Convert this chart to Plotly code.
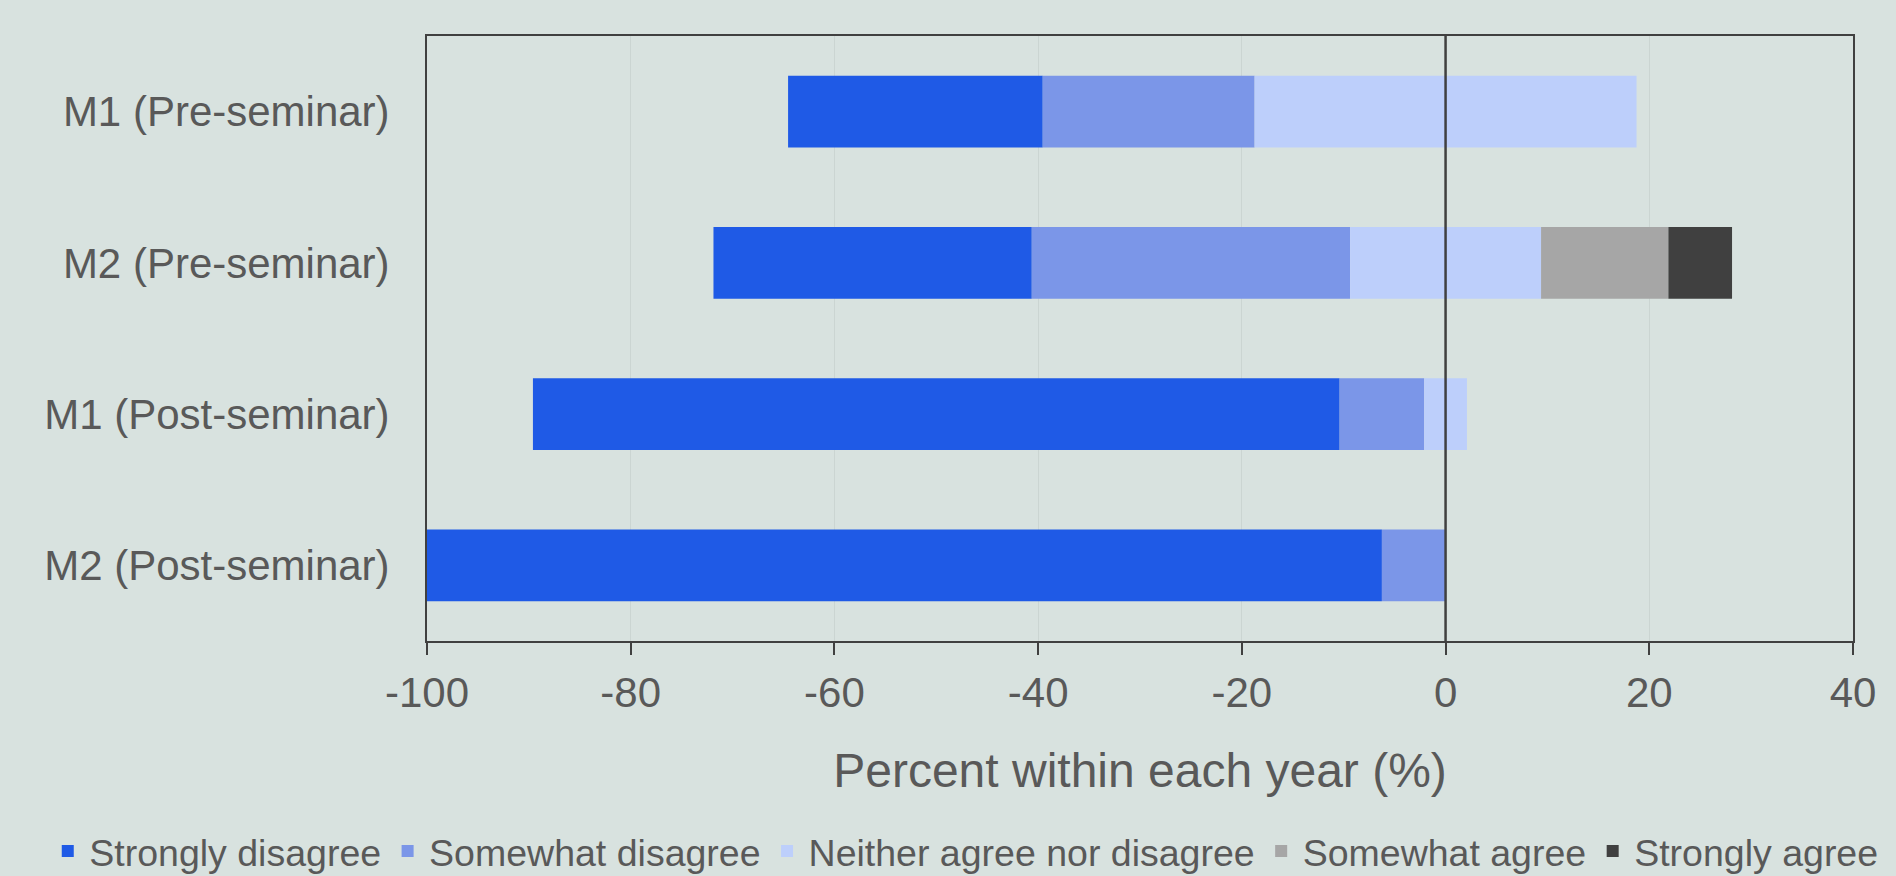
import plotly.graph_objects as go

groups = ["M1 (Pre-seminar)", "M2 (Pre-seminar)", "M1 (Post-seminar)", "M2 (Post-seminar)"]
strongly_disagree = [25.0, 31.25, 79.2, 93.75]
somewhat_disagree = [20.8, 31.25, 8.3, 6.25]
neither = [37.5, 18.75, 4.2, 0.0]
somewhat_agree = [0.0, 12.5, 0.0, 0.0]
strongly_agree = [0.0, 6.25, 0.0, 0.0]
x_ticks = [-100, -80, -60, -40, -20, 0, 20, 40]

colors = ["#1f5ae6", "#7b96e8", "#bdcffb", "#a6a6a6", "#404040"]
names = ["Strongly disagree", "Somewhat disagree", "Neither agree nor disagree",
         "Somewhat agree", "Strongly agree"]

half_n = [n / 2 for n in neither]
bases = [
    [-(a + b + h) for a, b, h in zip(strongly_disagree, somewhat_disagree, half_n)],
    [-(b + h) for b, h in zip(somewhat_disagree, half_n)],
    [-h for h in half_n],
    [h for h in half_n],
    [h + c for h, c in zip(half_n, somewhat_agree)],
]
values = [strongly_disagree, somewhat_disagree, neither, somewhat_agree, strongly_agree]

fig = go.Figure()
for name, col, base, val in zip(names, colors, bases, values):
    fig.add_trace(go.Bar(
        y=groups, x=val, base=base, orientation="h", name=name,
        marker=dict(color=col, line=dict(width=0)),
    ))

FONT = "Liberation Sans, Arial, sans-serif"
TXT = "#595959"
BG = "#d8e2df"

fig.add_shape(type="line", xref="x", yref="paper", x0=0, x1=0, y0=0, y1=1,
              line=dict(color="#404040", width=2.5), layer="above")

fig.update_layout(
    width=1896, height=876,
    paper_bgcolor=BG, plot_bgcolor=BG,
    barmode="overlay", bargap=0.524,
    margin=dict(l=427, r=43, t=36, b=235, autoexpand=False),
    font=dict(family=FONT, color=TXT),
    xaxis=dict(
        range=[-100, 40], tickvals=x_ticks, ticktext=[str(v) for v in x_ticks],
        showgrid=True, gridcolor="#cbd5d2", gridwidth=1,
        zeroline=False,
        showline=True, linecolor="#404040", linewidth=2, mirror=True,
        ticks="outside", ticklen=12, tickwidth=2, tickcolor="#404040",
        ticklabelstandoff=2,
        tickfont=dict(size=42, color=TXT, family=FONT),
        title=dict(text="Percent within each year (%)", font=dict(size=48, color=TXT, family=FONT),
                   standoff=38),
    ),
    yaxis=dict(
        categoryorder="array", categoryarray=groups, autorange="reversed",
        showgrid=False, zeroline=False,
        showline=True, linecolor="#404040", linewidth=2, mirror=True,
        ticks="", ticklabelstandoff=27,
        tickfont=dict(size=42, color=TXT, family=FONT),
    ),
    legend=dict(
        orientation="h", xref="paper", yref="paper",
        x=-0.267, xanchor="left", y=(641 - 851) / 605, yanchor="middle",
        font=dict(size=37.5, color=TXT, family=FONT),
        bgcolor="rgba(0,0,0,0)", traceorder="normal",
        itemwidth=33, tracegroupgap=0,
    ),
    showlegend=True,
)

fig.write_html("out.html")
